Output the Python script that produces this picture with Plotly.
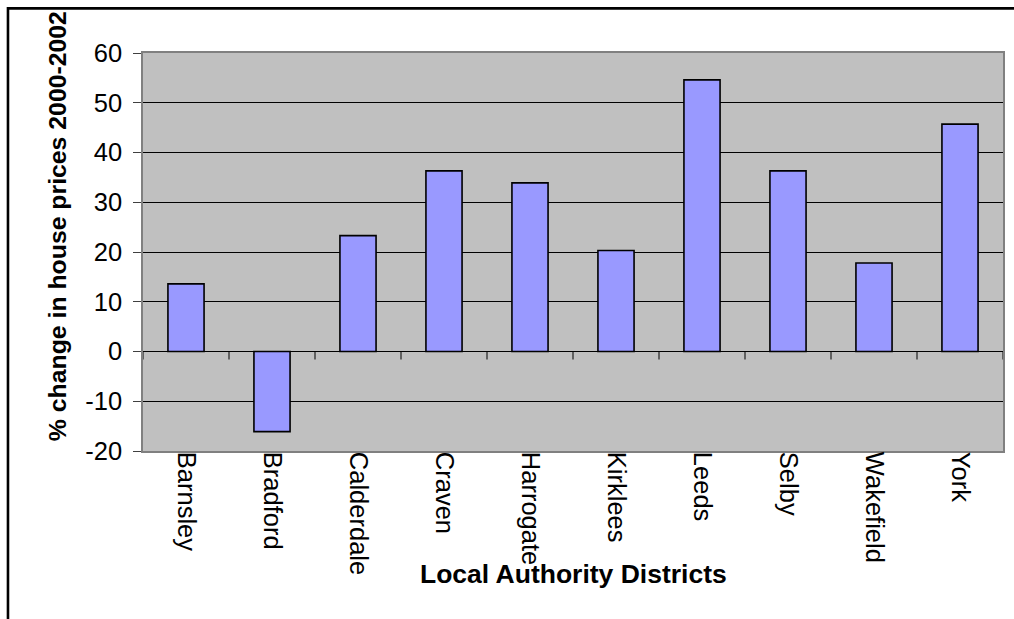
import plotly.graph_objects as go

# Percentage change in house prices, 2000-2002, by local authority district
districts = ["Barnsley", "Bradford", "Calderdale", "Craven", "Harrogate",
             "Kirklees", "Leeds", "Selby", "Wakefield", "York"]
pct_change = [13.6, -16.1, 23.3, 36.3, 33.9, 20.3, 54.6, 36.3, 17.8, 45.7]
y_tick_values = [-20, -10, 0, 10, 20, 30, 40, 50, 60]
y_tick_labels = ["-20", "-10", "0", "10", "20", "30", "40", "50", "60"]

FONT = "Liberation Sans, Arial, sans-serif"

fig = go.Figure(
    go.Bar(
        x=districts,
        y=pct_change,
        marker=dict(color="#9999FF", line=dict(color="black", width=1.6)),
        width=0.42,
        hoverinfo="x+y",
    )
)

# Small tick marks on the zero line at the category boundaries
tick_shapes = [
    dict(type="line", xref="x", yref="y", x0=i - 0.5, x1=i - 0.5,
         ysizemode="pixel", yanchor=0, y0=0, y1=-8,
         line=dict(color="black", width=1))
    for i in range(len(districts) + 1)
]

# Outer chart frame
frame = dict(type="rect", xref="paper", yref="paper",
             x0=-0.157, x1=1.05, y0=1.112, y1=-0.6,
             line=dict(color="black", width=2.6), fillcolor="rgba(0,0,0,0)",
             layer="above")

fig.update_layout(
    template="none",
    width=1014,
    height=619,
    margin=dict(l=143, r=11, t=53, b=168, autoexpand=False),
    paper_bgcolor="white",
    plot_bgcolor="#C0C0C0",
    showlegend=False,
    font=dict(family=FONT, color="black", size=25),
    shapes=tick_shapes + [frame],
    xaxis=dict(
        type="category",
        tickangle=90,
        tickfont=dict(family=FONT, size=25.5, color="black"),
        ticklabelstandoff=-6,
        showgrid=False,
        ticks="",
        showline=True,
        linecolor="#808080",
        linewidth=1.5,
        mirror=True,
        automargin=False,
        range=[-0.5, len(districts) - 0.5],
    ),
    yaxis=dict(
        range=[-20, 60],
        tickvals=y_tick_values,
        ticktext=y_tick_labels,
        tickfont=dict(family=FONT, size=25.5, color="black"),
        ticklabelstandoff=6,
        showgrid=True,
        gridcolor="black",
        gridwidth=1,
        zeroline=True,
        zerolinecolor="black",
        zerolinewidth=1.2,
        ticks="outside",
        ticklen=8,
        tickcolor="#404040",
        showline=True,
        linecolor="#808080",
        linewidth=1.5,
        mirror=True,
        automargin=False,
    ),
    annotations=[
        dict(text="<b>Local Authority Districts</b>", xref="paper", yref="paper",
             x=0.5, y=-0.309, xanchor="center", yanchor="middle",
             showarrow=False, font=dict(family=FONT, size=26.5, color="black")),
        dict(text="<b>% change in house prices 2000-2002</b>", xref="paper",
             yref="paper", x=-0.1, y=0.565, xanchor="center", yanchor="middle",
             textangle=-90, showarrow=False,
             font=dict(family=FONT, size=24.8, color="black")),
    ],
)

fig.write_html("out.html")
